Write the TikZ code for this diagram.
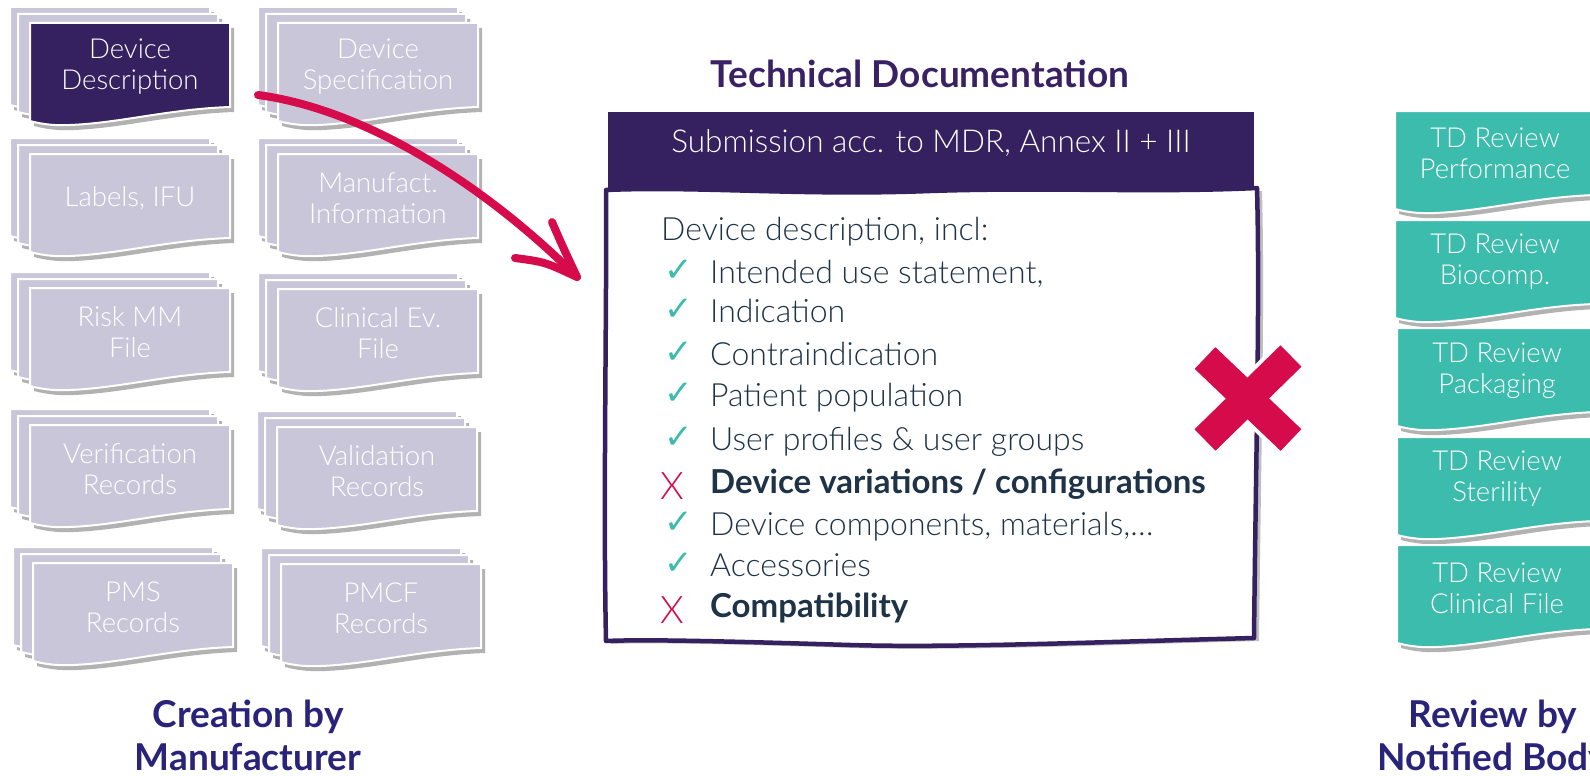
\documentclass[tikz,border=0pt]{standalone}
\usepackage{fontspec}
\setmainfont{Lato}
\newfontfamily\lightf{Lato Light}
\newfontfamily\symf{DejaVu Sans}
\usetikzlibrary{shadows}
\definecolor{lav}{HTML}{CAC6DA}
\definecolor{purp}{HTML}{35215F}
\definecolor{titlep}{HTML}{3A2163}
\definecolor{headblue}{HTML}{2A237A}
\definecolor{teal}{HTML}{3CBCAD}
\definecolor{redx}{HTML}{D50B4C}
\definecolor{navy}{HTML}{1E3347}
\tikzset{
  sheet/.style={fill=lav, draw=white, line width=2pt,
    drop shadow={shadow xshift=4pt, shadow yshift=-5pt, opacity=.3, fill=black}},
  tealsheet/.style={sheet, fill=teal},
  sheetlabel/.style={text=white, align=center, font=\lightf\fontsize{27.5}{31}\selectfont},
  bigtitle/.style={align=center, font=\bfseries\fontsize{37}{43}\selectfont},
  item/.style={anchor=mid west, text=navy, inner sep=0pt, font=\lightf\fontsize{32}{34}\selectfont},
  bolditem/.style={item, font=\bfseries\fontsize{33}{34}\selectfont},
  chk/.style={text=teal, inner sep=0pt, font=\symf\fontsize{34}{36}\selectfont},
  xm/.style={text=redx, inner sep=0pt, font=\lightf\fontsize{38}{40}\selectfont},
  redline/.style={draw=redx, line width=8pt, line cap=round, line join=round},
}
\newcommand\docsheet[3]{%
  \begin{scope}[shift={(#2,#3)}]
    \path[#1] (0,0) -- (200,0) -- (200,84) .. controls (140,86) and (90,100) .. (40,102)
      .. controls (20,103) and (8,100) .. (0,98) -- cycle;
  \end{scope}}
\newcommand\stackdoc[5]{%
  \docsheet{sheet}{{#1-20}}{{#2-16}}%
  \docsheet{sheet}{{#1-12}}{{#2-9}}%
  \docsheet{sheet,#5}{#1}{#2}%
  \node[sheetlabel] (#3) at ({#1+100},{#2+44}) {#4};}
\begin{document}
\begin{tikzpicture}[x=1pt,y=-1pt]
\useasboundingbox (0,0) rectangle (1590,776);
\clip (0,0) rectangle (1590,776);
\fill[white] (0,0) rectangle (1590,776);

% left stacks
\stackdoc{30}{23}{dd}{Device\\Description}{fill=purp}
\stackdoc{278}{23}{ds}{Device\\Specification}{}
\stackdoc{30}{154}{lab}{Labels, IFU}{}
\stackdoc{278}{154}{mi}{Manufact.\\Information}{}
\stackdoc{30}{288}{rm}{Risk MM\\File}{}
\stackdoc{278}{289}{ce}{Clinical Ev.\\File}{}
\stackdoc{30}{425}{ver}{Verification\\Records}{}
\stackdoc{277}{427}{val}{Validation\\Records}{}
\stackdoc{33}{563}{pms}{PMS\\Records}{}
\stackdoc{281}{564}{pmcf}{PMCF\\Records}{}
\node[bigtitle, text=headblue] (creat) at (248,735) {Creation by\\Manufacturer};

% central box
\node[bigtitle, text=titlep] (title) at (920,74) {Technical Documentation};
\fill[purp] (608,112) rectangle (1254,198);
\node[text=white, font=\lightf\fontsize{31.5}{34}\selectfont] (sub) at (931,143) {Submission acc. to MDR, Annex II + III};
\path[fill=white, draw=purp, line width=4.5pt, line join=round,
      drop shadow={shadow xshift=5pt, shadow yshift=-3pt, opacity=.25, fill=black}]
  (606,190) .. controls (700,186) and (800,196) .. (930,191)
  .. controls (1050,187) and (1150,193) .. (1257,188)
  .. controls (1260,300) and (1256,450) .. (1254,638)
  .. controls (1100,642) and (950,648) .. (850,645)
  .. controls (750,642) and (650,639) .. (606,641)
  .. controls (603,500) and (607,300) .. (606,190) -- cycle;

\node[item] (dhead) at (661,238) {Device description, incl:};
\node[chk] (c1) at (679,271) {✓}; \node[item] (i1) at (710,281) {Intended use statement,};
\node[chk] (c2) at (679,310) {✓}; \node[item] (i2) at (710,320) {Indication};
\node[chk] (c3) at (679,353) {✓}; \node[item] (i3) at (710,363) {Contraindication};
\node[chk] (c4) at (679,394) {✓}; \node[item] (i4) at (710,404) {Patient population};
\node[chk] (c5) at (679,438) {✓}; \node[item] (i5) at (710,448) {User profiles \& user groups};
\node[xm]  (x6) at (672,486) {X}; \node[bolditem] (i6) at (710,491) {Device variations / configurations};
\node[chk] (c7) at (679,523) {✓}; \node[item] (i7) at (710,533) {Device components, materials,\dots};
\node[chk] (c8) at (679,564) {✓}; \node[item] (i8) at (710,574) {Accessories};
\node[xm]  (x9) at (672,610) {X}; \node[bolditem] (i9) at (710,615) {Compatibility};

% big red X
\coordinate (xa1) at (1205,358); \coordinate (xa2) at (1291,440);
\coordinate (xb1) at (1291,356); \coordinate (xb2) at (1205,440);
\draw[white, line width=38pt] (xa1) -- (xa2) (xb1) -- (xb2);
\draw[redx, line width=30pt] (xa1) -- (xa2) (xb1) -- (xb2);

% arrow
\coordinate (aS) at (258,95);
\coordinate (aT) at (577,277);
\coordinate (b1) at (552,222);
\coordinate (b2) at (515,258);
\draw[redline] (aS) .. controls (370,110) and (490,190) .. (aT);
\draw[redline] (b1) .. controls (562,245) .. (aT) .. controls (545,262) .. (b2);

% right teal sheets
\docsheet{tealsheet}{1395}{111}
\node[sheetlabel] (r1) at (1495,153) {TD Review\\Performance};
\docsheet{tealsheet}{1395}{220}
\node[sheetlabel] (r2) at (1495,262) {TD Review\\Biocomp.};
\docsheet{tealsheet}{1397}{328}
\node[sheetlabel] (r3) at (1497,371) {TD Review\\Packaging};
\docsheet{tealsheet}{1397}{437}
\node[sheetlabel] (r4) at (1497,479) {TD Review\\Sterility};
\docsheet{tealsheet}{1397}{545}
\node[sheetlabel] (r5) at (1497,588) {TD Review\\Clinical File};
\node[bigtitle, text=headblue] (rev) at (1493,738) {Review by\\Notified Body};
\end{tikzpicture}
\end{document}
